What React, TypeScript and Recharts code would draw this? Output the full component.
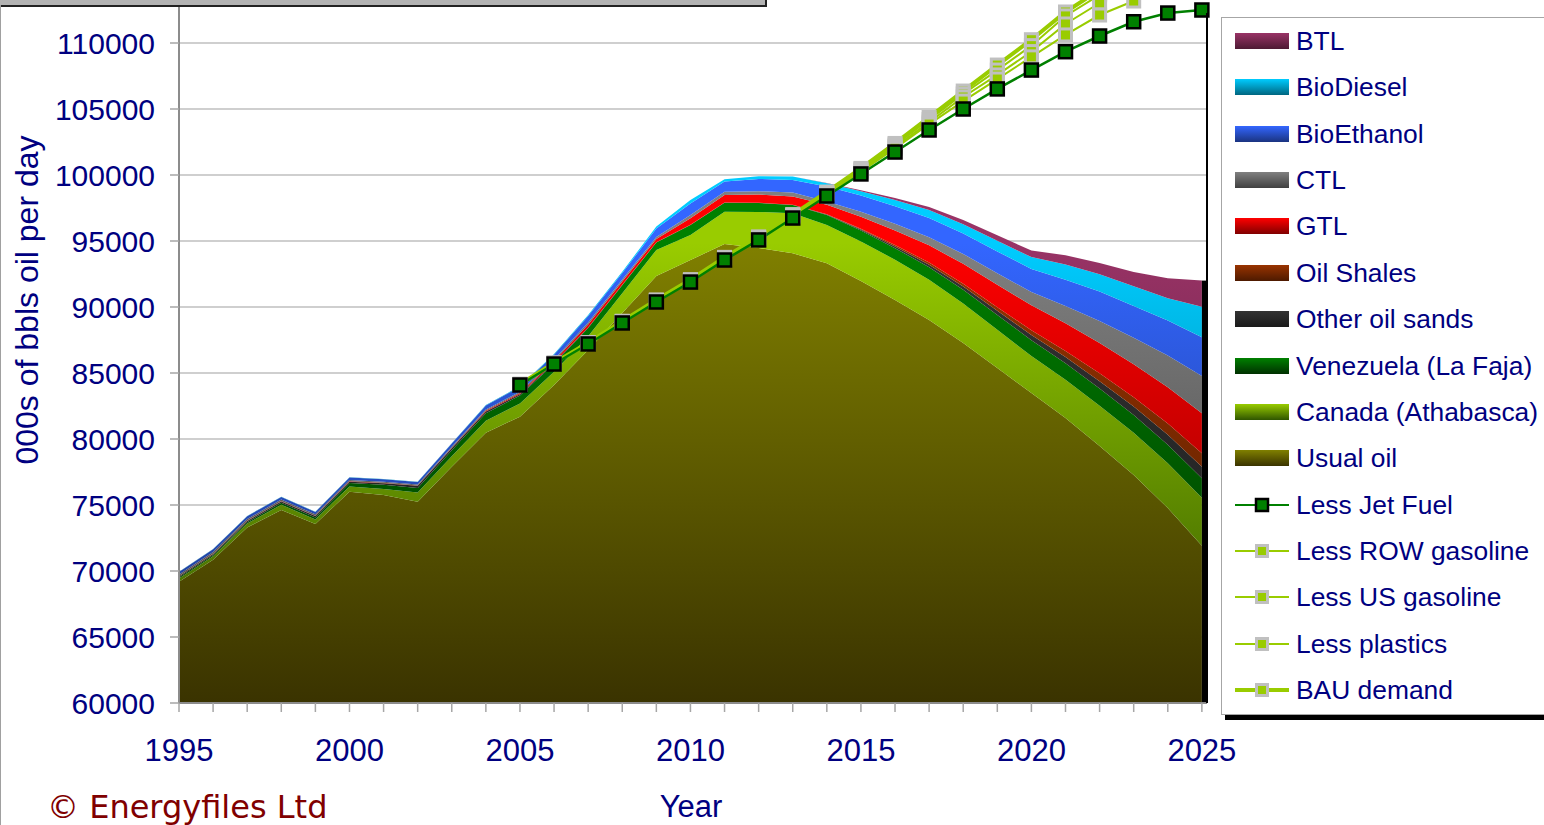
import React from 'react';
import { ComposedChart, Area, Line, XAxis, YAxis, CartesianGrid, Legend, ReferenceLine, Label } from 'recharts';

const years = [1995, 1996, 1997, 1998, 1999, 2000, 2001, 2002, 2003, 2004, 2005, 2006, 2007, 2008, 2009, 2010, 2011, 2012, 2013, 2014, 2015, 2016, 2017, 2018, 2019, 2020, 2021, 2022, 2023, 2024, 2025];
const xTickYears = years;
const yTicks = [60000, 65000, 70000, 75000, 80000, 85000, 90000, 95000, 100000, 105000, 110000];

// Stacked supply (000s bbl/day), bottom to top
const usualOil = [69190, 70850, 73290, 74620, 73560, 76010, 75760, 75250, 77900, 80480, 81690, 84090, 86740, 89550, 92350, 93560, 94770, 94470, 94070, 93310, 91970, 90530, 89020, 87270, 85380, 83480, 81590, 79470, 77270, 74770, 71920];
const canada = [250, 270, 300, 400, 350, 400, 450, 700, 800, 900, 1000, 1000, 1050, 1500, 1970, 1890, 2450, 2730, 3030, 2900, 3000, 3050, 3050, 3000, 2900, 2800, 2900, 3050, 3200, 3400, 3630];
const venezuela = [80, 90, 110, 150, 150, 250, 330, 330, 450, 580, 600, 620, 620, 600, 560, 760, 680, 680, 630, 760, 820, 880, 950, 1030, 1110, 1200, 1250, 1300, 1350, 1400, 1470];
const otherSands = [80, 80, 90, 100, 100, 100, 110, 175, 150, 130, 100, 60, 30, 20, 10, 10, 10, 10, 10, 30, 80, 130, 190, 250, 320, 400, 480, 560, 650, 750, 880];
const oilShales = [10, 10, 10, 10, 10, 10, 10, 10, 10, 10, 10, 10, 10, 10, 10, 10, 10, 10, 10, 20, 60, 110, 160, 220, 280, 350, 450, 600, 700, 850, 1020];
const gtl = [20, 20, 20, 20, 20, 20, 20, 20, 30, 50, 80, 130, 230, 250, 250, 490, 570, 620, 620, 720, 900, 1100, 1300, 1500, 1700, 1900, 2100, 2300, 2500, 2750, 3030];
const ctl = [100, 110, 110, 110, 100, 100, 90, 75, 80, 90, 100, 120, 150, 150, 150, 250, 250, 250, 300, 250, 380, 500, 620, 750, 870, 1000, 1300, 1650, 2000, 2400, 2820];
const bioEthanol = [200, 210, 220, 200, 180, 190, 180, 190, 230, 300, 370, 350, 480, 490, 650, 880, 760, 930, 960, 1140, 1230, 1330, 1450, 1550, 1650, 1750, 2000, 2250, 2400, 2650, 2930];
const bioDiesel = [20, 20, 20, 20, 20, 20, 20, 20, 20, 40, 50, 60, 90, 100, 150, 250, 180, 200, 250, 250, 330, 470, 600, 700, 800, 900, 1150, 1300, 1500, 1700, 2320];
const btl = [0, 0, 0, 0, 0, 0, 0, 0, 0, 0, 0, 0, 0, 0, 0, 0, 0, 0, 0, 20, 80, 150, 230, 320, 420, 500, 700, 850, 1080, 1500, 1980];

// Demand lines, 2005-2025
const demandYears = [2005, 2006, 2007, 2008, 2009, 2010, 2011, 2012, 2013, 2014, 2015, 2016, 2017, 2018, 2019, 2020, 2021, 2022, 2023, 2024, 2025];
const lessJetFuel = [84090, 85680, 87200, 88790, 90380, 91890, 93560, 95080, 96740, 98410, 100080, 101740, 103410, 105000, 106520, 107950, 109340, 110530, 111610, 112270, 112500];
const lessRowGasoline = [84120, 85720, 87250, 88850, 90450, 91970, 93650, 95180, 96850, 98540, 100250, 102020, 103860, 105600, 107270, 108950, 110610, 112120, 113180, 114100, 114800];
const lessUsGasoline = [84130, 85735, 87270, 88880, 90480, 92010, 93690, 95230, 96910, 98600, 100340, 102140, 104010, 105910, 107580, 109350, 111440, 113030, 114400, 115400, 116200];
const lessPlastics = [84140, 85750, 87285, 88900, 90510, 92040, 93730, 95270, 96960, 98660, 100430, 102280, 104190, 106140, 107950, 109800, 112050, 113640, 115100, 116100, 116900];
const bauDemand = [84150, 85760, 87300, 88920, 90530, 92070, 93760, 95310, 97000, 98710, 100500, 102390, 104360, 106360, 108330, 110250, 112350, 114020, 115500, 116600, 117300];

const areaSeries = [
  { key: 'usualOil', name: 'Usual oil', values: usualOil, top: '#808000', bottom: '#3a3300' },
  { key: 'canada', name: 'Canada (Athabasca)', values: canada, top: '#99cc00', bottom: '#2f5500' },
  { key: 'venezuela', name: 'Venezuela (La Faja)', values: venezuela, top: '#008000', bottom: '#003000' },
  { key: 'otherSands', name: 'Other oil sands', values: otherSands, top: '#333333', bottom: '#1a1a1a' },
  { key: 'oilShales', name: 'Oil Shales', values: oilShales, top: '#993300', bottom: '#4d1a00' },
  { key: 'gtl', name: 'GTL', values: gtl, top: '#ff0000', bottom: '#800000' },
  { key: 'ctl', name: 'CTL', values: ctl, top: '#808080', bottom: '#404040' },
  { key: 'bioEthanol', name: 'BioEthanol', values: bioEthanol, top: '#3366ff', bottom: '#1a3380' },
  { key: 'bioDiesel', name: 'BioDiesel', values: bioDiesel, top: '#00ccff', bottom: '#006680' },
  { key: 'btl', name: 'BTL', values: btl, top: '#993366', bottom: '#4d1a33' },
];

const lineSeries = [
  { key: 'bau', name: 'BAU demand', values: bauDemand, width: 4, jet: false },
  { key: 'plastics', name: 'Less plastics', values: lessPlastics, width: 2, jet: false },
  { key: 'usGas', name: 'Less US gasoline', values: lessUsGasoline, width: 2, jet: false },
  { key: 'rowGas', name: 'Less ROW gasoline', values: lessRowGasoline, width: 2, jet: false },
  { key: 'jet', name: 'Less Jet Fuel', values: lessJetFuel, width: 2.5, jet: true },
];

const data = years.map((year, i) => {
  const row: any = { year };
  areaSeries.forEach((s) => { row[s.key] = s.values[i]; });
  const di = demandYears.indexOf(year);
  lineSeries.forEach((s) => { row[s.key] = di >= 0 ? s.values[di] : null; });
  return row;
});

const lastIdx = years.length - 1;
const total2025 = areaSeries.reduce((acc, s) => acc + s.values[lastIdx], 0);

const FONT = "'Liberation Sans', Arial, sans-serif";
const NAVY = '#000080';

const legendOrder = ['BTL', 'BioDiesel', 'BioEthanol', 'CTL', 'GTL', 'Oil Shales', 'Other oil sands', 'Venezuela (La Faja)', 'Canada (Athabasca)', 'Usual oil', 'Less Jet Fuel', 'Less ROW gasoline', 'Less US gasoline', 'Less plastics', 'BAU demand'];

const JetDot = (props: any) => {
  const { cx, cy, index } = props;
  if (cx == null || cy == null || props.value == null) return <g key={`j${index}`} />;
  return <rect key={`j${index}`} x={cx - 6.5} y={cy - 6.5} width={13} height={13} fill="#008000" stroke="#000" strokeWidth={2.5} />;
};
const GreyDot = (props: any) => {
  const { cx, cy, index } = props;
  if (cx == null || cy == null || props.value == null) return <g key={`g${index}`} />;
  return <rect key={`g${index}`} x={cx - 6} y={cy - 6} width={12} height={12} fill="#99cc00" stroke="#c0c0c0" strokeWidth={3} />;
};

const XTick = (props: any) => {
  const { x, y, payload } = props;
  if (payload.value % 5 !== 0) return <g />;
  return (
    <text x={x} y={y} dy={49} textAnchor="middle" fontSize={31} fill={NAVY} fontFamily={FONT}>
      {payload.value}
    </text>
  );
};

const LegendBox = () => (
  <div style={{ position: 'relative', width: 340, height: 698, background: '#fff', border: '1px solid #a6a6a6', boxShadow: '4px 5px 0 #000', boxSizing: 'border-box', fontFamily: FONT }}>
    {legendOrder.map((name, i) => {
      const area = areaSeries.find((s) => s.name === name);
      const line = lineSeries.find((s) => s.name === name);
      const top = 23 + i * 46.36 - 16;
      return (
        <div key={name} style={{ position: 'absolute', left: 0, top, height: 32, width: 338 }}>
          {area && (
            <div style={{ position: 'absolute', left: 13, top: 8, width: 54, height: 16, background: `linear-gradient(${area.top}, ${area.bottom})` }} />
          )}
          {line && (
            <svg style={{ position: 'absolute', left: 13, top: 6 }} width={54} height={20}>
              <line x1={0} y1={10} x2={54} y2={10} stroke={line.jet ? '#008000' : '#99cc00'} strokeWidth={line.key === 'bau' ? 4 : 2} />
              {line.jet ? (
                <rect x={21} y={4} width={12} height={12} fill="#008000" stroke="#000" strokeWidth={2.5} />
              ) : (
                <rect x={21.5} y={4.5} width={11} height={11} fill="#99cc00" stroke="#c0c0c0" strokeWidth={3} />
              )}
            </svg>
          )}
          <div style={{ position: 'absolute', left: 74, top: 0, lineHeight: '32px', fontSize: 26.4, color: NAVY, whiteSpace: 'nowrap' }}>{name}</div>
        </div>
      );
    })}
  </div>
);

const BlackBar = (props: any) => {
  const { x1, y1, y2 } = props;
  const top = Math.min(y1, y2);
  return <rect x={x1} y={top} width={6} height={Math.abs(y2 - y1)} fill="#000" />;
};

export default function App() {
  return (
    <div style={{ position: 'fixed', left: 0, top: 0, width: 1544, height: 825, overflow: 'hidden', background: '#fff' }}>
      <div style={{ position: 'absolute', left: 0, top: -43 }}>
        <ComposedChart width={1544} height={868} data={data} margin={{ top: 20, right: 337, bottom: 62, left: 0 }}>
          <defs>
            {areaSeries.map((s) => (
              <linearGradient key={s.key} id={`grad-${s.key}`} gradientUnits="userSpaceOnUse" x1={0} y1={286} x2={0} y2={746}>
                <stop offset="0%" stopColor={s.top} />
                <stop offset="100%" stopColor={s.bottom} />
              </linearGradient>
            ))}
          </defs>
          <CartesianGrid horizontal vertical={false} stroke="#a0a0a0" strokeWidth={1.2} />
          <XAxis
            dataKey="year"
            type="number"
            domain={[1995, 2025.15]}
            ticks={xTickYears}
            interval={0}
            tickSize={9}
            tickMargin={0}
            height={60}
            axisLine={{ stroke: '#8c8c8c', strokeWidth: 2 }}
            tickLine={{ stroke: '#a6a6a6', strokeWidth: 1.5 }}
            tick={<XTick />}
          >
            <Label content={() => <text x={691} y={860} textAnchor="middle" fontSize={31} fill={NAVY} fontFamily={FONT}>Year</text>} />
          </XAxis>
          <YAxis
            type="number"
            domain={[60000, 115000]}
            allowDataOverflow
            ticks={yTicks}
            interval={0}
            width={179}
            tickSize={9}
            tickMargin={15}
            axisLine={{ stroke: '#8c8c8c', strokeWidth: 2 }}
            tickLine={{ stroke: '#a6a6a6', strokeWidth: 1.5 }}
            tick={{ fill: NAVY, fontSize: 30, fontFamily: FONT }}
          >
            <Label
              content={() => (
                <text x={27} y={343} transform="rotate(-90 27 343)" textAnchor="middle" dominantBaseline="central" fontSize={32} fill={NAVY} fontFamily={FONT}>
                  000s of bbls oil per day
                </text>
              )}
            />
          </YAxis>
          {areaSeries.map((s) => (
            <Area
              key={s.key}
              type="linear"
              dataKey={s.key}
              name={s.name}
              stackId="supply"
              stroke="none"
              fill={`url(#grad-${s.key})`}
              fillOpacity={1}
              isAnimationActive={false}
              activeDot={false}
            />
          ))}
          <ReferenceLine segment={[{ x: 2025, y: 60000 }, { x: 2025, y: total2025 }]} shape={<BlackBar />} stroke="#000" />
          {lineSeries.map((s) => (
            <Line
              key={s.key}
              type="linear"
              dataKey={s.key}
              name={s.name}
              stroke={s.jet ? '#008000' : '#99cc00'}
              strokeWidth={s.width}
              dot={s.jet ? <JetDot /> : <GreyDot />}
              activeDot={false}
              connectNulls={false}
              isAnimationActive={false}
            />
          ))}
          <Legend
            layout="vertical"
            align="center"
            verticalAlign="middle"
            content={() => <LegendBox />}
            wrapperStyle={{ position: 'absolute', left: 1221, top: 60, width: 340, height: 698 }}
          />
        </ComposedChart>
      </div>
      <div style={{ position: 'absolute', left: -4, top: -20, width: 767, height: 23, background: '#b3b3b3', border: '2px solid #222' }} />
      <div style={{ position: 'absolute', left: 0, top: 5, width: 1, height: 820, background: '#a0a0a0' }} />
      <div style={{ position: 'absolute', left: 1206, top: 13, width: 2, height: 690, background: '#000' }} />
      <div style={{ position: 'absolute', left: 47, top: 787, fontFamily: "'DejaVu Sans', Verdana, sans-serif", fontSize: 32, color: '#800000', whiteSpace: 'nowrap', lineHeight: '40px' }}>
        © Energyfiles Ltd
      </div>
    </div>
  );
}
